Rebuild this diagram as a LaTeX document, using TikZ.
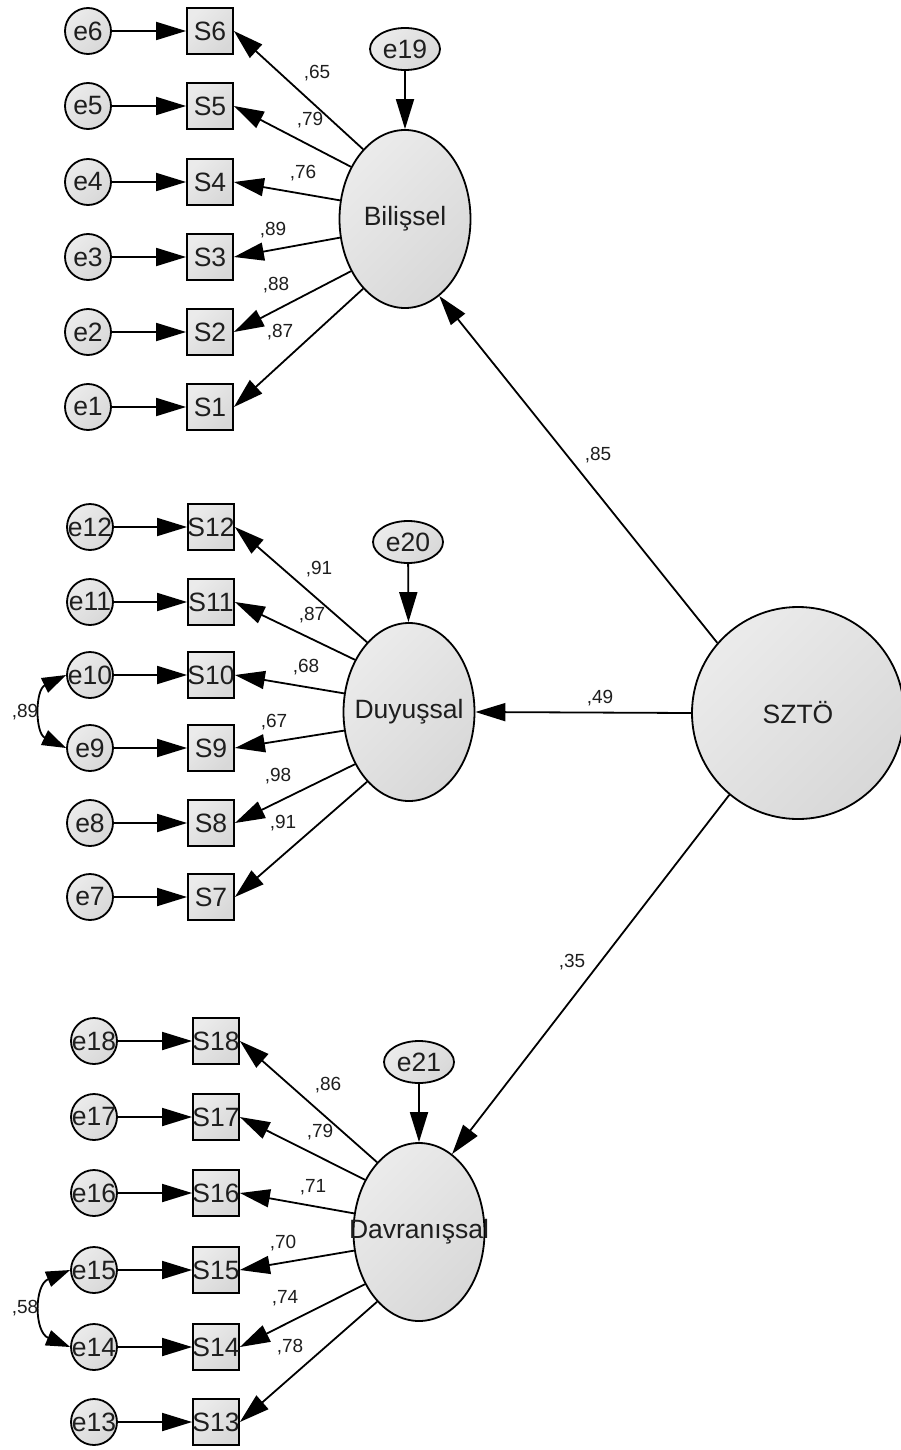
\documentclass[tikz,border=0pt]{standalone}
\usepackage{fontspec}
\setmainfont{Liberation Sans}
\usetikzlibrary{arrows.meta,shapes.geometric}
\definecolor{fillA}{HTML}{EBEBEB}
\definecolor{fillB}{HTML}{D8D8D8}
\definecolor{txt}{HTML}{1E1E1E}
\tikzset{
  shp/.style={draw=black, line width=1.8pt, top color=fillA, bottom color=fillB, shading angle=45, inner sep=0pt},
  errc/.style={shp, circle, minimum size=46pt},
  obsbox/.style={shp, rectangle, minimum size=46pt},
  latent/.style={shp, ellipse, minimum width=131pt, minimum height=178pt},
  distc/.style={shp, ellipse, minimum width=70pt, minimum height=42pt},
  rootc/.style={shp, circle, minimum size=212pt},
  nm/.style={label={[font=\fontsize{26.5}{28}\selectfont, text=txt, inner sep=0pt]center:#1}},
  arr/.style={line width=1.8pt, arrows={-Triangle[length=30pt,width=18pt]}},
  cov/.style={line width=1.8pt, arrows={Triangle[length=24pt,width=16pt]-Triangle[length=24pt,width=16pt]}},
  coef/.style={font=\fontsize{19}{21}\selectfont, text=txt, inner sep=0pt}
}
\begin{document}
\begin{tikzpicture}[x=1pt,y=1pt]
\useasboundingbox (0,0) rectangle (901,-1450);
% ---------- Bilissel block ----------
\foreach \i/\y in {6/31,5/106,4/182,3/257,2/332,1/407}{
  \node[errc, nm=e\i] (e\i) at (88,-\y) {};
  \node[obsbox, nm=S\i] (S\i) at (210,-\y) {};
  \draw[arr] (e\i) -- (S\i);
}
\node[latent, nm=Bilişsel] (B) at (405,-219) {};
\node[distc, nm=e19] (e19) at (405,-49) {};
\draw[arr] (e19) -- (B);
\draw[arr] (B.121) -- (S6.east);
\draw[arr] (B.136) -- (S5.east);
\draw[arr] (B.164) -- (S4.east);
\draw[arr] (B.196) -- (S3.east);
\draw[arr] (B.224) -- (S2.east);
\draw[arr] (B.239) -- (S1.east);
\node[coef] (c65) at (317,-73) {,65};
\node[coef] (c79) at (310,-120) {,79};
\node[coef] (c76) at (303,-173) {,76};
\node[coef] (c89) at (273,-230) {,89};
\node[coef] (c88) at (276,-285) {,88};
\node[coef] (c87) at (280,-332) {,87};
% ---------- Duyussal block ----------
\foreach \i/\y in {12/527,11/602,10/675,9/748,8/823,7/897}{
  \node[errc, nm=e\i] (e\i) at (90,-\y) {};
  \node[obsbox, nm=S\i] (S\i) at (211,-\y) {};
  \draw[arr] (e\i) -- (S\i);
}
\node[latent, nm=Duyuşsal] (Du) at (409,-712) {};
\node[distc, nm=e20] (e20) at (408,-542) {};
\draw[arr] (e20) -- (Du);
\draw[arr] (Du.121) -- (S12.east);
\draw[arr] (Du.136) -- (S11.east);
\draw[arr] (Du.164) -- (S10.east);
\draw[arr] (Du.196) -- (S9.east);
\draw[arr] (Du.224) -- (S8.east);
\draw[arr] (Du.239) -- (S7.east);
\draw[cov] (e10.west) .. controls (35,-690) and (35,-733) .. (e9.west);
\node[coef] (d89) at (25,-712) {,89};
\node[coef] (d91a) at (319,-569) {,91};
\node[coef] (d87) at (312,-615) {,87};
\node[coef] (d68) at (306,-667) {,68};
\node[coef] (d67) at (274,-722) {,67};
\node[coef] (d98) at (278,-776) {,98};
\node[coef] (d91b) at (283,-823) {,91};
% ---------- Davranissal block ----------
\foreach \i/\y in {18/1041,17/1117,16/1193,15/1270,14/1347,13/1422}{
  \node[errc, nm=e\i] (e\i) at (94,-\y) {};
  \node[obsbox, nm=S\i] (S\i) at (216,-\y) {};
  \draw[arr] (e\i) -- (S\i);
}
\node[latent, nm=Davranışsal] (Dv) at (419,-1232) {};
\node[distc, nm=e21] (e21) at (419,-1062) {};
\draw[arr] (e21) -- (Dv);
\draw[arr] (Dv.121) -- (S18.east);
\draw[arr] (Dv.136) -- (S17.east);
\draw[arr] (Dv.164) -- (S16.east);
\draw[arr] (Dv.196) -- (S15.east);
\draw[arr] (Dv.224) -- (S14.east);
\draw[arr] (Dv.239) -- (S13.east);
\draw[cov] (e15.west) .. controls (34,-1285) and (34,-1332) .. (e14.west);
\node[coef] (v58) at (25,-1308) {,58};
\node[coef] (v86) at (328,-1085) {,86};
\node[coef] (v79) at (320,-1132) {,79};
\node[coef] (v71) at (313,-1187) {,71};
\node[coef] (v70) at (283,-1243) {,70};
\node[coef] (v74) at (285,-1298) {,74};
\node[coef] (v78) at (290,-1347) {,78};
% ---------- SZTO ----------
\node[rootc, nm=SZTÖ] (Z) at (798,-713) {};
\draw[arr] (Z.139) -- (B.294);
\draw[arr] (Z.180) -- (Du.east);
\draw[arr] (Z.230) -- (Dv.67);
\node[coef] (z85) at (598,-455) {,85};
\node[coef] (z49) at (600,-698) {,49};
\node[coef] (z35) at (572,-962) {,35};
\end{tikzpicture}
\end{document}
